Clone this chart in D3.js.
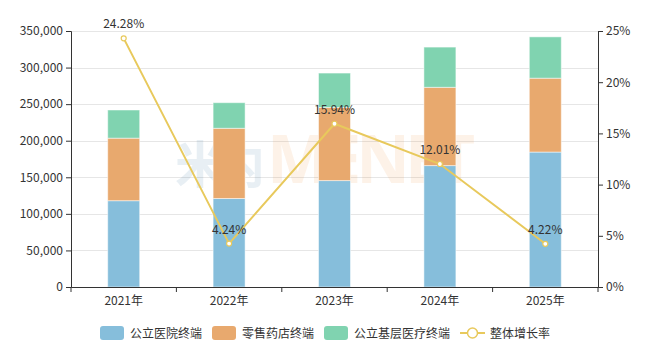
<!DOCTYPE html>
<html><head><meta charset="utf-8">
<script src="https://cdn.jsdelivr.net/npm/d3@7/dist/d3.min.js"></script>
<style>body{margin:0;background:#fff;}svg{display:block;font-family:"Noto Sans CJK SC","Noto Sans",sans-serif;}</style>
</head><body><svg id="c" width="654" height="357"></svg>
<script>
const categories = ["2021年","2022年","2023年","2024年","2025年"];
const publicHospital = [118000, 121000, 145500, 166000, 184500];
const retailPharmacy = [85500, 96000, 100000, 107000, 101000];
const publicPrimary = [38500, 35000, 47000, 55000, 56500];
const growthRate = [24.28, 4.24, 15.94, 12.01, 4.22];
const seriesNames = ["公立医院终端","零售药店终端","公立基层医疗终端","整体增长率"];
const leftTicks = [0,50000,100000,150000,200000,250000,300000,350000];
const rightTicks = [0,5,10,15,20,25];
const colors = ["#86bedb","#e8a96e","#80d3b0","#e8c95c"];

const svg = d3.select("#c");
const L = 71, R = 598, T = 31, B = 287;
const x = d3.scaleBand().domain(categories).range([L,R]).paddingInner(0).paddingOuter(0);
const y = d3.scaleLinear().domain([0,350000]).range([B,T]);
const y2 = d3.scaleLinear().domain([0,25]).range([B,T]);

// grid
svg.append("g").selectAll("line").data(leftTicks.slice(1)).join("line")
  .attr("x1",L).attr("x2",R).attr("y1",d=>Math.round(y(d))+0.5).attr("y2",d=>Math.round(y(d))+0.5)
  .attr("stroke","#e6e6e6").attr("stroke-width",1);

// watermark
svg.append("text").attr("x",175).attr("y",183).attr("font-size",50).attr("font-weight","bold")
  .attr("fill","#1f5f8f").attr("fill-opacity",0.1).attr("textLength",90).text("米内");
svg.append("text").attr("x",267).attr("y",183).attr("font-size",66).attr("font-weight","bold")
  .attr("font-family","'Noto Sans',sans-serif")
  .attr("fill","#f08a2c").attr("fill-opacity",0.11).attr("textLength",208).text("MENET");

// stacked bars
const stackData = categories.map((c,i)=>({cat:c, a:publicHospital[i], b:retailPharmacy[i], g:publicPrimary[i]}));
const stack = d3.stack().keys(["a","b","g"])(stackData);
const bw = 32;
stack.forEach((layer,k)=>{
  svg.append("g").selectAll("rect").data(layer).join("rect")
    .attr("x",d=>x(d.data.cat)+x.bandwidth()/2-bw/2)
    .attr("width",bw)
    .attr("y",d=>y(d[1]))
    .attr("height",d=>y(d[0])-y(d[1]))
    .attr("fill",colors[k])
    .attr("stroke","rgba(255,255,255,0.5)").attr("stroke-width",1);
});

// axes
const fontColor = "#333";
const gl = svg.append("g").attr("transform",`translate(${L},0)`)
  .call(d3.axisLeft(y).tickValues(leftTicks).tickSize(5).tickPadding(3).tickFormat(d3.format(",")));
const gr = svg.append("g").attr("transform",`translate(${R},0)`)
  .call(d3.axisRight(y2).tickValues(rightTicks).tickSize(5).tickPadding(3).tickFormat(d=>d+"%"));
const gx = svg.append("g").attr("transform",`translate(0,${B})`)
  .call(d3.axisBottom(x).tickSize(0).tickPadding(9));
[gl,gr,gx].forEach(g=>{
  g.selectAll("text").attr("font-size",12).attr("fill",fontColor).attr("font-family","'Noto Sans CJK SC',sans-serif");
  g.selectAll("line").attr("stroke","#333");
  g.select(".domain").attr("stroke","#333");
});
// x ticks at band boundaries
svg.append("g").selectAll("line").data(categories.concat([null])).join("line")
  .attr("x1",(d,i)=>i<categories.length? x(d): R).attr("x2",(d,i)=>i<categories.length? x(d): R)
  .attr("y1",B).attr("y2",B+5).attr("stroke","#333");

// line
const cx = d=>x(d)+x.bandwidth()/2;
const lineData = categories.map((c,i)=>({c, v:growthRate[i]}));
svg.append("path").datum(lineData)
  .attr("d",d3.line().x(d=>cx(d.c)).y(d=>y2(d.v)))
  .attr("fill","none").attr("stroke",colors[3]).attr("stroke-width",2);
svg.append("g").selectAll("circle").data(lineData).join("circle")
  .attr("cx",d=>cx(d.c)).attr("cy",d=>y2(d.v)).attr("r",2.5)
  .attr("fill","#fff").attr("stroke",colors[3]).attr("stroke-width",1.2);
svg.append("g").selectAll("text").data(lineData).join("text")
  .attr("x",d=>cx(d.c)).attr("y",d=>y2(d.v)-10)
  .attr("text-anchor","middle").attr("font-size",12).attr("fill","#333")
  .text(d=>d.v.toFixed(2)+"%");

// legend
const lg = svg.append("g");
const items = [{x:100,k:0},{x:212,k:1},{x:324,k:2}];
items.forEach(it=>{
  lg.append("rect").attr("x",it.x).attr("y",326).attr("width",24).attr("height",14).attr("rx",3)
    .attr("fill",colors[it.k]);
  lg.append("text").attr("x",it.x+30).attr("y",337.5).attr("font-size",12).attr("fill","#333").text(seriesNames[it.k]);
});
lg.append("line").attr("x1",460).attr("x2",485).attr("y1",333).attr("y2",333).attr("stroke",colors[3]).attr("stroke-width",2);
lg.append("circle").attr("cx",472.5).attr("cy",333).attr("r",5).attr("fill","#fff").attr("stroke",colors[3]).attr("stroke-width",1.5);
lg.append("text").attr("x",490).attr("y",337.5).attr("font-size",12).attr("fill","#333").text(seriesNames[3]);
</script></body></html>
